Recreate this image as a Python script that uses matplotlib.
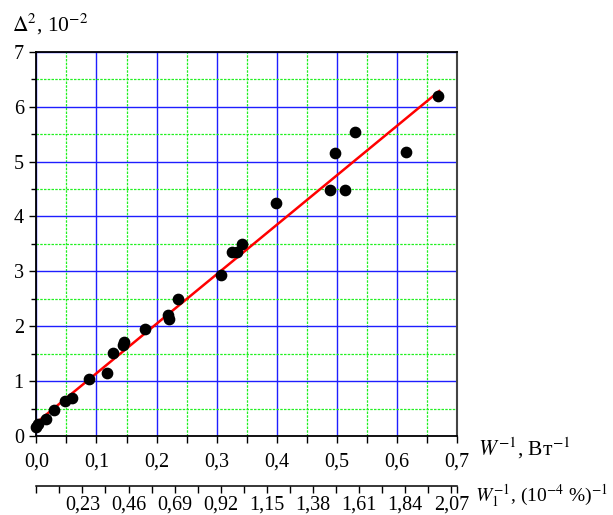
import matplotlib

matplotlib.use("Agg")
import matplotlib.pyplot as plt
from matplotlib.ticker import FixedLocator, MultipleLocator, FuncFormatter

# Measured points: inverse power W^-1 (1/W) vs squared deviation (x 1e-2)
W_INV = [0.000, 0.003, 0.0155, 0.030, 0.047, 0.0586, 0.0884, 0.118, 0.128,
         0.145, 0.146, 0.1805, 0.219, 0.220, 0.236, 0.307, 0.326, 0.334,
         0.342, 0.399, 0.488, 0.513, 0.496, 0.530, 0.614, 0.668]
DELTA_SQ = [0.17, 0.22, 0.31, 0.48, 0.64, 0.70, 1.03, 1.15, 1.51,
            1.66, 1.71, 1.94, 2.21, 2.13, 2.49, 2.93, 3.35, 3.35,
            3.49, 4.24, 4.49, 4.49, 5.15, 5.53, 5.17, 6.20]

# Linear fit drawn over the data range
FIT_X = [0.0, 0.67]
FIT_INTERCEPT = 0.24
FIT_SLOPE = 9.02

# Secondary scale: W1^-1 = 3 * W^-1
SCALE = 3.0
SEC_LABELS = [0.23, 0.46, 0.69, 0.92, 1.15, 1.38, 1.61, 1.84, 2.07]

plt.rcParams.update({
    "font.family": ["Liberation Serif", "DejaVu Serif"],
    "mathtext.fontset": "stix",
    "font.size": 14,
})


def comma(v, _pos=None, nd=1):
    return f"{v:.{nd}f}".replace(".", ",")


fig = plt.figure(figsize=(6.13, 5.15), dpi=100)
ax = fig.add_axes([0.0592, 0.1534, 0.746 - 0.0592, 0.8996 - 0.1534])

ax.set_xlim(0, 0.7)
ax.set_ylim(0, 7)

ax.xaxis.set_major_locator(MultipleLocator(0.1))
ax.xaxis.set_minor_locator(MultipleLocator(0.05))
ax.yaxis.set_major_locator(MultipleLocator(1))
ax.yaxis.set_minor_locator(MultipleLocator(0.5))
ax.xaxis.set_major_formatter(FuncFormatter(lambda v, p: comma(v)))
ax.yaxis.set_major_formatter(FuncFormatter(lambda v, p: f"{v:.0f}"))

ax.grid(which="major", color="#1e1eff", linewidth=1.0, linestyle="-")
ax.grid(which="minor", color="#22f022", linewidth=0.9, linestyle=(0, (2, 1)))
ax.set_axisbelow(True)

ax.tick_params(axis="both", which="major", direction="out", length=5,
               width=1.0, labelsize=14.5, pad=4)
ax.tick_params(axis="x", which="minor", direction="out", length=5, width=1.0)
ax.tick_params(axis="y", which="minor", direction="out", length=3.5, width=1.0)
ax.tick_params(axis="x", which="major", pad=7)

for side in ("left", "bottom", "top"):
    ax.spines[side].set_linewidth(1.3)
    ax.spines[side].set_color("black")
ax.spines["right"].set_linewidth(1.5)
ax.spines["right"].set_color("#444444")

ax.scatter(W_INV, DELTA_SQ, s=55, color="black", zorder=4, clip_on=False)
fit_y = [FIT_INTERCEPT + FIT_SLOPE * x for x in FIT_X]
ax.plot(FIT_X, fit_y, color="#ff0000", linewidth=1.8, zorder=3)

# Second x scale, offset below the main axis
sec = ax.secondary_xaxis(-0.13, functions=(lambda x: x * SCALE,
                                            lambda x: x / SCALE))
sec.spines["bottom"].set_linewidth(1.1)
major = [0.0] + SEC_LABELS
minor = [v - 0.115 for v in SEC_LABELS] + [2.1]
sec.xaxis.set_major_locator(FixedLocator(major))
sec.xaxis.set_minor_locator(FixedLocator(minor))
sec.xaxis.set_major_formatter(
    FuncFormatter(lambda v, p: "" if v == 0 else comma(v, nd=2)))
sec.tick_params(which="both", direction="out", length=5, width=1.0)
sec.tick_params(which="major", labelsize=14.5, pad=2)

fig.text(0.020, 0.940, r"$\Delta^2$, 10$^{-2}$", fontsize=15.5,
         ha="left", va="baseline")
fig.text(0.780, 0.116, r"$W^{-1}$, Вт$^{-1}$", fontsize=15.5,
         ha="left", va="baseline")
fig.text(0.775, 0.025, r"$W_1^{-1}$, (10$^{-4}$ %)$^{-1}$", fontsize=14,
         ha="left", va="baseline")

fig.savefig("out.png", dpi=100)
